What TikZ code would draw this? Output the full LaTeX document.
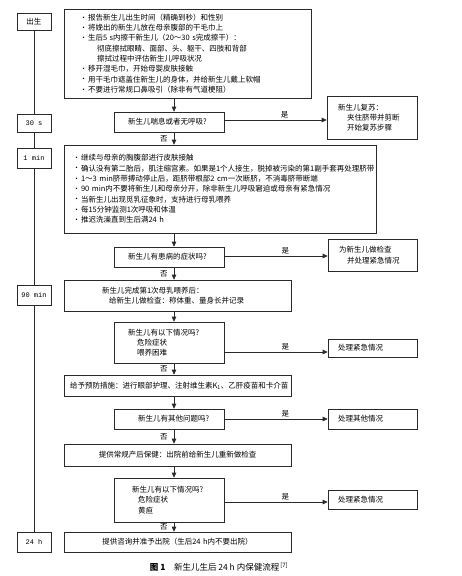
\documentclass[tikz,border=0pt]{standalone}
\usepackage{fontspec}
\setmainfont{Noto Sans CJK SC}
\newfontfamily\monof{Liberation Mono}
\usetikzlibrary{arrows.meta}
\definecolor{linec}{HTML}{2A2A2A}
\newcommand\fs{\fontsize{7.5pt}{10.3pt}\selectfont}
\newcommand\bl{\makebox[8pt][l]{\raisebox{0.3pt}{\scriptsize•}}}
\tikzset{
  box/.style={draw=linec, line width=0.6pt, fill=white, inner ysep=0pt, align=left, font=\fs, text=black},
  cbox/.style={box, align=center},
  tlbox/.style={draw=linec, line width=0.6pt, fill=white, minimum width=34pt, inner sep=0pt, font=\monof\fontsize{7pt}{8pt}\selectfont},
  arr/.style={-{Triangle[length=5pt,width=4.5pt]}, line width=0.6pt, draw=linec},
  tline/.style={line width=0.6pt, draw=linec},
  lab/.style={font=\fs, text=black, inner sep=2pt},
}
\begin{document}
\begin{tikzpicture}[x=1pt,y=-1pt]
\useasboundingbox[fill=white] (0,0) rectangle (461,576);

% timeline
\node[tlbox, minimum height=17pt] (t0) at (34,21.5) {\rmfamily\fs 出生};
\node[tlbox, minimum height=18pt] (t1) at (34,123) {30 s};
\node[tlbox, minimum height=20pt] (t2) at (34,158) {1 min};
\node[tlbox, minimum height=20pt] (t3) at (34,295) {90 min};
\node[tlbox, minimum height=20pt] (t4) at (34,542) {24 h};
\draw[tline] (t0) -- (t1);
\draw[tline] (t1) -- (t2);
\draw[tline] (t2) -- (t3);
\draw[tline] (t3) -- (t4);

% main column
\coordinate (ax) at (174,0);
\node[box, minimum width=247pt, minimum height=89pt, text width=215pt, inner xsep=16pt] (b1) at (187.5,53.5) {%
\bl 报告新生儿出生时间（精确到秒）和性别\\
\bl 将娩出的新生儿放在母亲腹部的干毛巾上\\
\bl 生后5~s内擦干新生儿（20～30~s完成擦干）：\\
\hspace*{17pt}彻底擦拭眼睛、面部、头、躯干、四肢和背部\\
\hspace*{17pt}擦拭过程中评估新生儿呼吸状况\\
\bl 移开湿毛巾，开始母婴皮肤接触\\
\bl 用干毛巾遮盖住新生儿的身体，并给新生儿戴上软帽\\
\bl 不要进行常规口鼻吸引（除非有气道梗阻）};

\node[box, minimum width=110pt, minimum height=20pt, text width=82pt, inner xsep=14pt] (d1) at (169,122) {新生儿喘息或者无呼吸?};
\node[box, minimum width=90pt, minimum height=43pt, text width=68pt, inner xsep=11pt] (r1) at (372,117.5) {新生儿复苏：\\
\hspace*{9pt}夹住脐带并剪断\\
\hspace*{9pt}开始复苏步骤};

\node[box, minimum width=312pt, minimum height=88pt, text width=294pt, inner xsep=9pt] (b2) at (220,189) {%
\bl 继续与母亲的胸腹部进行皮肤接触\\
\bl 确认没有第二胎后，肌注缩宫素。如果是1个人接生，脱掉被污染的第1副手套再处理脐带\\
\bl 1～3~min脐带搏动停止后，距脐带根部2~cm一次断脐，不消毒脐带断端\\
\bl 90~min内不要将新生儿和母亲分开，除非新生儿呼吸窘迫或母亲有紧急情况\\
\bl 当新生儿出现觅乳征象时，支持进行母乳喂养\\
\bl 每15分钟监测1次呼吸和体温\\
\bl 推迟洗澡直到生后满24~h};

\node[box, minimum width=110pt, minimum height=20pt, text width=82pt, inner xsep=14pt] (d2) at (169,257) {新生儿有患病的症状吗?};
\node[box, minimum width=89pt, minimum height=32pt, text width=67pt, inner xsep=11pt] (r2) at (372.5,255) {为新生儿做检查\\
\hspace*{8pt}并处理紧急情况};

\node[box, minimum width=227pt, minimum height=31pt, text width=151pt, inner xsep=38pt] (b3) at (177.5,295.5) {新生儿完成第1次母乳喂养后：\\
\hspace*{7pt}给新生儿做检查：称体重、量身长并记录};

\node[box, minimum width=110pt, minimum height=41pt, text width=82pt, inner xsep=14pt] (d3) at (169,342.5) {新生儿有以下情况吗?\\
\hspace*{9pt}危险症状\\
\hspace*{9pt}喂养困难};
\node[box, minimum width=89pt, minimum height=18pt, text width=69pt, inner xsep=10pt] (r3) at (372.5,348) {处理紧急情况};

\node[cbox, minimum width=227pt, minimum height=21pt, text width=215pt, inner xsep=6pt] (b4) at (177.5,385.5) {给予预防措施：进行眼部护理、注射维生素K\textsubscript{1}、乙肝疫苗和卡介苗};

\node[box, minimum width=110pt, minimum height=20pt, text width=62pt, inner xsep=24pt] (d4) at (169,419) {新生儿有其他问题吗?};
\node[box, minimum width=89pt, minimum height=20pt, text width=69pt, inner xsep=10pt] (r4) at (372.5,419) {处理其他情况};

\node[cbox, minimum width=227pt, minimum height=22pt, text width=215pt, inner xsep=6pt] (b5) at (177.5,455) {提供常规产后保健：出院前给新生儿重新做检查};

\node[box, minimum width=110pt, minimum height=44pt, text width=74pt, inner xsep=18pt] (d5) at (169,500) {新生儿有以下情况吗?\\
\hspace*{6pt}危险症状\\
\hspace*{6pt}黄疸};
\node[box, minimum width=89pt, minimum height=19pt, text width=69pt, inner xsep=10pt] (r5) at (372.5,499.5) {处理紧急情况};

\node[cbox, minimum width=227pt, minimum height=20pt, text width=215pt, inner xsep=6pt] (b6) at (177.5,542) {提供咨询并准予出院（生后24~h内不要出院）};

% vertical arrows
\draw[arr] (b1.south -| ax) -- (d1.north -| ax);
\draw[arr] (d1.south -| ax) -- node[lab, left, xshift=-4pt] {否} (b2.north -| ax);
\draw[arr] (b2.south -| ax) -- (d2.north -| ax);
\draw[arr] (d2.south -| ax) -- node[lab, left, xshift=-4pt] {否} (b3.north -| ax);
\draw[arr] (b3.south -| ax) -- (d3.north -| ax);
\draw[arr] (d3.south -| ax) -- node[lab, left, xshift=-4pt] {否} (b4.north -| ax);
\draw[arr] (b4.south -| ax) -- (d4.north -| ax);
\draw[arr] (d4.south -| ax) -- node[lab, left, xshift=-4pt] {否} (b5.north -| ax);
\draw[arr] (b5.south -| ax) -- (d5.north -| ax);
\draw[arr] (d5.south -| ax) -- node[lab, left, xshift=-4pt] {否} (b6.north -| ax);

% horizontal arrows
\coordinate (h1) at (0,120);
\coordinate (h2) at (0,256);
\coordinate (h3) at (0,352);
\coordinate (h4) at (0,419);
\coordinate (h5) at (0,502);
\draw[arr] (d1.east |- h1) -- node[lab, above, pos=0.59] {是} (r1.west |- h1);
\draw[arr] (d2.east |- h2) -- node[lab, above, pos=0.59] {是} (r2.west |- h2);
\draw[arr] (d3.east |- h3) -- node[lab, above, pos=0.59] {是} (r3.west |- h3);
\draw[arr] (d4.east |- h4) -- node[lab, above, pos=0.59] {是} (r4.west |- h4);
\draw[arr] (d5.east |- h5) -- node[lab, above, pos=0.59] {是} (r5.west |- h5);

% caption
\node[font=\fontsize{8.5pt}{10pt}\selectfont, inner sep=0pt] (cap) at (219,567) {\textbf{图 1}\quad 新生儿生后 24 h 内保健流程\textsuperscript{\,[7]}};
\end{tikzpicture}
\end{document}
